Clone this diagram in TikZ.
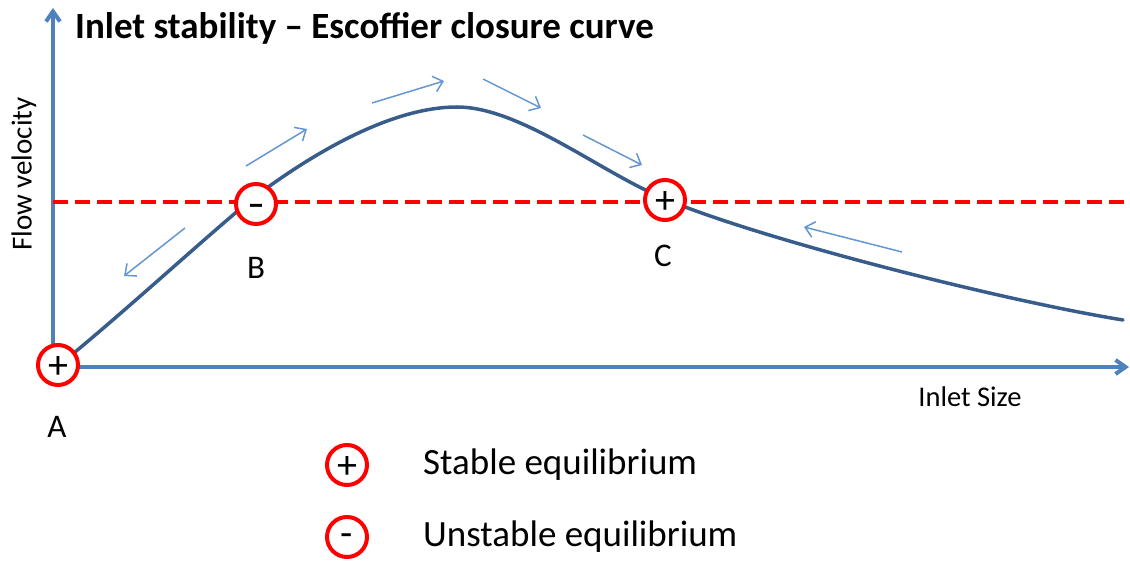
\documentclass[tikz,border=0pt]{standalone}
\usepackage{fontspec}
\setmainfont{Carlito}
\usepackage{tikz}
\usetikzlibrary{arrows.meta}
\definecolor{AxisBlue}{RGB}{79,129,189}
\definecolor{CurveBlue}{RGB}{56,93,138}
\definecolor{FlowBlue}{RGB}{100,150,210}
\definecolor{EqRed}{RGB}{255,0,0}

\begin{document}
\begin{tikzpicture}[x=1pt,y=-1pt, every node/.style={font=\fontsize{30}{34}\selectfont,inner sep=0pt}, axis/.style={AxisBlue,line width=4pt,-{Straight Barb[length=10pt,width=14pt]}}, curve/.style={CurveBlue,line width=3.5pt,line cap=round}, flow/.style={FlowBlue,line width=1.5pt,-{Straight Barb[length=9pt,width=16pt]}}, eq/.style={circle,draw=EqRed,line width=4pt,fill=white,minimum size=40pt,font=\fontsize{40}{40}\selectfont,text height=27pt,text depth=0pt}, lab/.style={font=\fontsize{33}{36}\selectfont}]
\useasboundingbox (0,0) rectangle (1130,561);
% axes
\coordinate (O) at (53,367);
\coordinate (Y) at (53,8);
\coordinate (X) at (1129,367);
\draw[axis] (O)--(Y);
\draw[axis] (O)--(X);
\node[anchor=west,font=\bfseries\fontsize{37}{40}\selectfont] (title) at (75,28) {Inlet stability -- Escoffier closure curve};
\node[rotate=90,font=\fontsize{29}{32}\selectfont] (yl) at (24,174) {Flow velocity};
\node[font=\fontsize{28.5}{32}\selectfont] (xl) at (970,397) {Inlet Size};
% threshold velocity
\coordinate (T0) at (53,202);
\coordinate (T1) at (1130,202);
\draw[EqRed,line width=4.5pt,dash pattern=on 15pt off 7pt] (T0)--(T1);
% closure curve
\coordinate (c0) at (58,366);
\coordinate (c1) at (252,199);
\coordinate (c2) at (457,107);
\coordinate (c3) at (665,199);
\coordinate (c4) at (1123,320);
\draw[curve] (c0) .. controls (120,316) and (200,242) .. (c1)
  .. controls (310,155) and (390,107) .. (c2)
  .. controls (520,107) and (600,172) .. (c3)
  .. controls (760,239) and (1000,300) .. (c4);
% flow direction
\draw[flow] (185,228)--(124,276);
\draw[flow] (246,166)--(307,129);
\draw[flow] (372,103)--(444,81);
\draw[flow] (483,79)--(541,108);
\draw[flow] (583,135)--(642,165);
\draw[flow] (902,252)--(804,227);
% equilibria
\node[eq] (A) at (58,365) {+};
\node[eq,font=\bfseries\fontsize{34}{34}\selectfont,text height=24pt] (B) at (256,204) {--};
\node[eq] (C) at (665,200) {+};
\node[lab] (la) at (57,427) {A};
\node[lab] (lb) at (256,268) {B};
\node[lab] (lc) at (663,256) {C};
% legend
\node[eq] (ks) at (347,465) {+};
\node[eq,text height=19pt] (ku) at (347,537) {-};
\node[anchor=west,font=\fontsize{37}{40}\selectfont] (ts) at (423,465) {Stable equilibrium};
\node[anchor=west,font=\fontsize{37}{40}\selectfont] (tu) at (423,537) {Unstable equilibrium};
\end{tikzpicture}
\end{document}
